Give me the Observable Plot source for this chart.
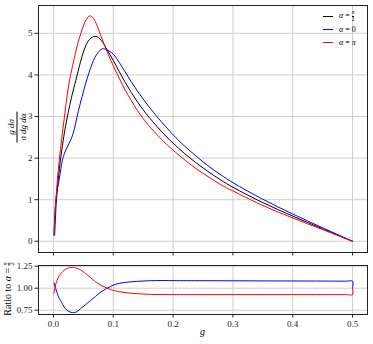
<!DOCTYPE html>
<html><head><meta charset="utf-8">
<script src="https://cdn.jsdelivr.net/npm/d3@7"></script>
<script src="https://cdn.jsdelivr.net/npm/@observablehq/plot@0.6"></script>
<style>
body{margin:0;background:#fff;}
#wrap{position:relative;width:373px;height:344px;font-family:"Liberation Serif","DejaVu Serif",serif;color:#000;}
#wrap svg{display:block;}
#wrap svg text{font-family:"Liberation Serif","DejaVu Serif",serif;}
.frac{display:inline-flex;flex-direction:column;align-items:center;vertical-align:middle;line-height:1;}
.frac > span:last-child{border-top:0.7px solid #000;}
.abs{position:absolute;white-space:nowrap;}
.leg{position:absolute;left:323px;font-size:8px;display:flex;align-items:center;height:12px;}
.leg i.sw{display:inline-block;width:10px;height:0;border-top:1px solid;margin-right:6px;}
</style></head><body><div id="wrap"></div>
<script>
// ---- data ----
const xTicks = [0, 0.1, 0.2, 0.3, 0.4, 0.5];
const yTicksTop = [0, 1, 2, 3, 4, 5];
const yTicksRatio = [0.75, 1.00, 1.25];

const gBlack = [0.002,0.005,0.01,0.015,0.02,0.03,0.0374,0.045,0.0512,0.06,0.0707,0.08,0.09,0.1,0.11,0.12,0.13,0.14,0.15,0.16,0.17,0.18,0.19,0.2,0.22,0.24,0.26,0.28,0.3,0.35,0.4,0.45,0.5];
const vBlack = [0.15,1.0,1.75,2.3,2.75,3.45,3.87,4.3,4.6,4.85,4.93,4.83,4.6,4.35,4.08,3.82,3.58,3.36,3.16,2.98,2.81,2.65,2.5,2.36,2.1,1.87,1.66,1.47,1.3,0.93,0.605,0.3,0.0];

const gRed = [0.001,0.004,0.0097,0.018,0.026,0.032,0.04,0.0458,0.052,0.06,0.066,0.0735,0.082,0.09,0.1,0.11,0.12,0.13,0.14,0.15,0.16,0.17,0.18,0.19,0.2,0.22,0.24,0.26,0.28,0.3,0.35,0.4,0.45,0.5];
const vRed = [0.14,1.0,1.95,2.95,3.8,4.22,4.72,5.0,5.25,5.42,5.38,5.16,4.84,4.55,4.22,3.92,3.63,3.39,3.15,2.95,2.77,2.61,2.46,2.32,2.19,1.95,1.73,1.54,1.36,1.21,0.86,0.56,0.28,0.0];

const gBlue = [0.001,0.004,0.0097,0.015,0.018,0.0225,0.032,0.042,0.054,0.065,0.0735,0.082,0.09,0.1,0.11,0.12,0.13,0.14,0.15,0.16,0.17,0.18,0.19,0.2,0.22,0.24,0.26,0.28,0.3,0.35,0.4,0.45,0.5];
const vBlue = [0.15,1.0,1.5,1.95,2.1,2.25,2.55,3.15,3.8,4.28,4.52,4.63,4.6,4.5,4.3,4.07,3.84,3.62,3.42,3.23,3.05,2.88,2.72,2.56,2.28,2.03,1.8,1.595,1.41,1.01,0.656,0.325,0.0];

const gRatio = [0.001,0.004,0.008,0.012,0.02,0.026,0.032,0.038,0.045,0.053,0.062,0.07,0.079,0.09,0.1,0.11,0.123,0.14,0.162,0.18,0.2,0.25,0.3,0.35,0.4,0.45,0.49,0.5,0.5];
const rRed = [0.943,1.05,1.12,1.164,1.215,1.232,1.236,1.23,1.21,1.17,1.12,1.075,1.035,1.0,0.975,0.96,0.948,0.937,0.93,0.928,0.927,0.927,0.927,0.927,0.927,0.927,0.927,0.927,1.0];
const rBlue = [1.061,0.99,0.91,0.86,0.766,0.735,0.722,0.728,0.766,0.81,0.86,0.905,0.955,1.0,1.035,1.055,1.068,1.078,1.085,1.087,1.086,1.085,1.084,1.083,1.082,1.081,1.08,1.08,1.0];

// ---- tables ----
const topData = [
  ...gBlack.map((g,i)=>({g, v:vBlack[i], s:"half"})),
  ...gBlue.map((g,i)=>({g, v:vBlue[i], s:"zero"})),
  ...gRed.map((g,i)=>({g, v:vRed[i], s:"pi"}))
];
const ratioData = [
  ...gRatio.map((g,i)=>({g, v:rBlue[i], s:"zero"})),
  ...gRatio.map((g,i)=>({g, v:rRed[i], s:"pi"}))
];
const colorScale = {domain:["half","zero","pi"], range:["#000000","#0000ff","#ff0000"]};
const serif = '"Liberation Serif","DejaVu Serif",serif';
const font = {fontFamily:serif, fontSize:"9px", color:"#222", background:"transparent", overflow:"visible"};
const gridStroke = "#cfcfcf";

const topChart = Plot.plot({
  width:373, height:260, marginLeft:38, marginRight:6, marginTop:5, marginBottom:8,
  style:font,
  x:{domain:[-0.025,0.525]},
  y:{domain:[-0.27,5.67]},
  color:colorScale,
  marks:[
    Plot.gridX(xTicks,{stroke:gridStroke, strokeOpacity:1}),
    Plot.gridY(yTicksTop,{stroke:gridStroke, strokeOpacity:1}),
    Plot.line(topData,{x:"g", y:"v", z:"s", stroke:"s", strokeWidth:1, curve:"catmull-rom"}),
    Plot.frame({stroke:"#222"}),
    Plot.axisX(xTicks,{tickSize:3.5, tickFormat:()=>"", label:null, stroke:"#222"}),
    Plot.axisY(yTicksTop,{tickSize:3.5, tickPadding:2.5, tickFormat:"d", label:null, stroke:"#222", fill:"#222", fontFamily:serif, fontSize:9})
  ]
});

const bottomChart = Plot.plot({
  width:373, height:84, marginLeft:38, marginRight:6, marginTop:5, marginBottom:30,
  style:font,
  x:{domain:[-0.025,0.525]},
  y:{domain:[0.701,1.258]},
  color:colorScale,
  marks:[
    Plot.gridX(xTicks,{stroke:gridStroke, strokeOpacity:1}),
    Plot.gridY(yTicksRatio,{stroke:gridStroke, strokeOpacity:1}),
    Plot.line(ratioData,{x:"g", y:"v", z:"s", stroke:"s", strokeWidth:1, curve:"catmull-rom"}),
    Plot.frame({stroke:"#222"}),
    Plot.axisX(xTicks,{tickSize:3.5, tickPadding:3, tickFormat:".1f", label:null, stroke:"#222", fill:"#222", fontFamily:serif, fontSize:9}),
    Plot.axisY(yTicksRatio,{tickSize:3.5, tickPadding:2.5, tickFormat:".2f", label:null, stroke:"#222", fill:"#222", fontFamily:serif, fontSize:9})
  ]
});

const wrap = document.getElementById("wrap");
wrap.appendChild(topChart);
wrap.appendChild(bottomChart);

// axis labels and legend (real text)
wrap.insertAdjacentHTML("beforeend", `
  <div class="abs" style="left:200px;top:326px;font-size:10px;font-style:italic;">g</div>
  <div class="abs" style="left:17px;top:127px;transform:translate(-50%,-50%) rotate(-90deg);font-size:9px;font-style:italic;">
    <span class="frac"><span style="padding:0 2px 1px">g dσ</span><span style="padding:1px 2px 0">σ dg dα</span></span>
  </div>
  <div class="abs" style="left:9px;top:289px;transform:translate(-50%,-50%) rotate(-90deg);font-size:10px;">
    Ratio to <i>α</i> = <span class="frac" style="font-size:6px"><span><i>π</i></span><span>2</span></span>
  </div>
  <div class="leg" style="top:10px;"><i class="sw" style="border-color:#000"></i><span><i>α</i> = <span class="frac" style="font-size:5.5px"><span><i>π</i></span><span>2</span></span></span></div>
  <div class="leg" style="top:23px;"><i class="sw" style="border-color:#0000ff"></i><span><i>α</i> = 0</span></div>
  <div class="leg" style="top:36px;"><i class="sw" style="border-color:#ff0000"></i><span><i>α</i> = <i>π</i></span></div>
`);
</script>
</body></html>
